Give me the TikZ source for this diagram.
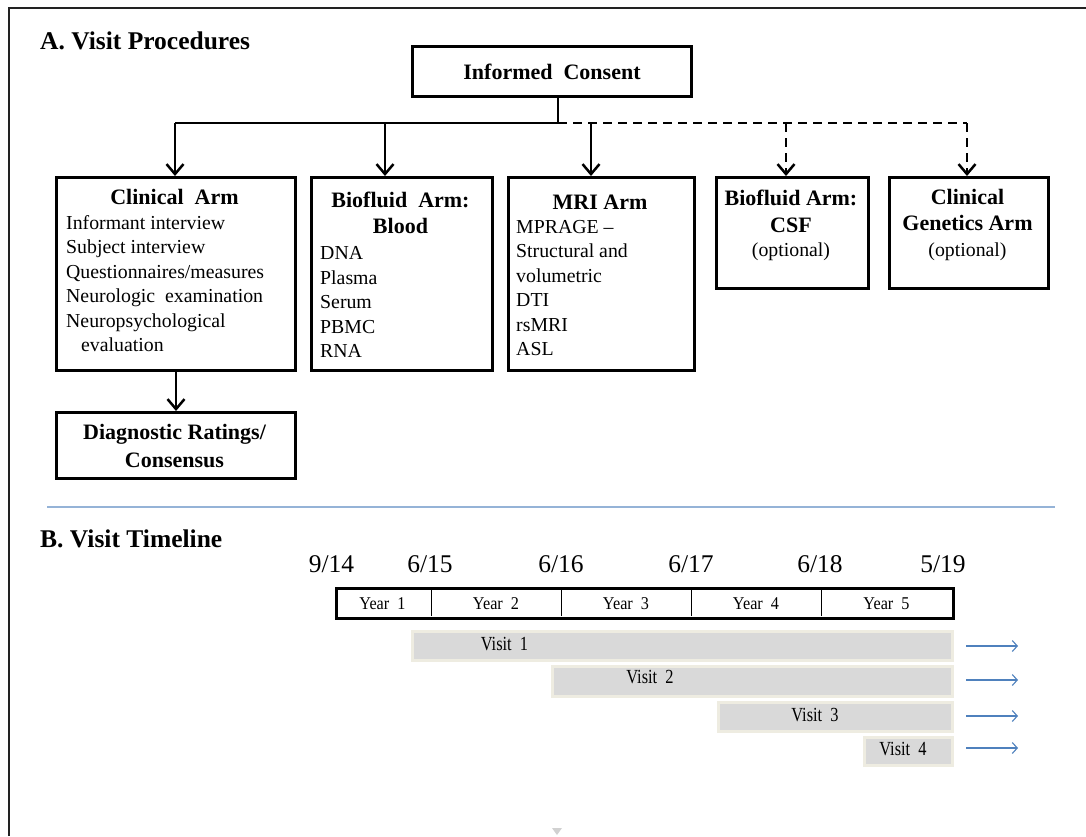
\documentclass[tikz,border=0pt]{standalone}
\usepackage{fontspec}
\setmainfont{Liberation Serif}
\newfontfamily\condfont[FakeStretch=0.82]{Liberation Serif}
\newfontfamily\yearfont[FakeStretch=0.9]{Liberation Serif}
\usetikzlibrary{arrows.meta}
\definecolor{visitfill}{HTML}{D9D9D9}
\definecolor{visitedge}{HTML}{EEECE1}
\definecolor{sepblue}{HTML}{95B3D7}
\definecolor{arrblue}{HTML}{4F81BD}
\definecolor{framec}{HTML}{222222}
\newcommand\bodyf{\fontsize{19.8}{24.5}\selectfont}
\newcommand\headf{\fontsize{22}{26.5}\selectfont\bfseries}
\newcommand\titlef{\fontsize{25.5}{30}\selectfont\bfseries}
\newcommand\datef{\fontsize{25.5}{30}\selectfont}
\newcommand\yearf{\fontsize{18}{20}\yearfont}
\newcommand\visitf{\fontsize{20}{22}\condfont}
\tikzset{
  box/.style={draw=black, line width=3pt, anchor=north west, inner sep=0pt},
  conn/.style={line width=2.5pt, draw=black},
  tip/.style={-{Straight Barb[length=10pt,width=17pt]}},
  dsh/.style={dash pattern=on 9pt off 6pt},
  lbl/.style={inner sep=0pt, anchor=base},
  lst/.style={inner sep=0pt, anchor=base west, align=left, font=\bodyf},
  visitbar/.style={fill=visitfill, draw=visitedge, line width=3pt, anchor=north west, inner sep=0pt},
  bluearr/.style={draw=arrblue, line width=1.1pt, -{Straight Barb[length=5pt,width=11pt]}},
}
\begin{document}
\begin{tikzpicture}[x=1pt,y=-1pt]
\useasboundingbox (0,0) rectangle (1086,836);
% frame
\draw[framec, line width=2pt] (9,836) -- (9,8) -- (1086,8);
% titles
\node[inner sep=0pt, anchor=base west, font=\titlef] (ta) at (40,49.5) {A. Visit Procedures};
\node[inner sep=0pt, anchor=base west, font=\titlef] (tb) at (40,547) {B. Visit Timeline};

% boxes
\node[box, minimum width=279pt, minimum height=50pt, font=\headf] (ic) at (411,45) {Informed\ \ Consent};
\node[box, minimum width=239pt, minimum height=193pt] (clin) at (55,176) {};
\node[box, minimum width=181pt, minimum height=193pt] (blood) at (310,176) {};
\node[box, minimum width=186pt, minimum height=193pt] (mri) at (507,176) {};
\node[box, minimum width=152pt, minimum height=111pt] (csf) at (715,176) {};
\node[box, minimum width=159pt, minimum height=111pt] (gen) at (888,176) {};
\node[box, minimum width=239pt, minimum height=66pt] (diag) at (55,411) {};

% bus and connectors
\coordinate (stem) at (558,123);
\coordinate (bclin) at (175,123);
\coordinate (bblood) at (385,123);
\coordinate (bmri) at (591,123);
\coordinate (bcsf) at (786,123);
\coordinate (bgen) at (967,123);
\draw[conn] (ic.south -| stem) -- (stem);
\draw[conn] (stem) -- (bclin);
\draw[conn, dsh] (stem) -- (bgen);
\draw[conn, tip] (bclin) -- (bclin |- clin.north);
\draw[conn, tip] (bblood) -- (bblood |- blood.north);
\draw[conn, tip] (bmri) -- (bmri |- mri.north);
\draw[conn, dsh, tip] (bcsf) -- (bcsf |- csf.north);
\draw[conn, dsh, tip] (bgen) -- (bgen |- gen.north);
\draw[conn, tip] (clin.south) -- (diag.north);

% clinical arm text
\node[lbl, font=\headf] (clinT) at (174.5,204) {Clinical\ \ Arm};
\node[lst] (clinL) at (66,351.5) {Informant interview\\Subject interview\\Questionnaires/measures\\Neurologic\ \ examination\\Neuropsychological\\\hspace*{15pt}evaluation};
% blood
\node[lbl, font=\headf] (bloodT1) at (400.5,207) {Biofluid\ \ Arm:};
\node[lbl, font=\headf] (bloodT2) at (400.5,233) {Blood};
\node[lst] (bloodL) at (320,357.5) {DNA\\Plasma\\Serum\\PBMC\\RNA};
% mri
\node[lbl, font=\headf] (mriT) at (600,209) {MRI Arm};
\node[lst] (mriL) at (516,355.5) {MPRAGE --\\Structural and\\volumetric\\DTI\\rsMRI\\ASL};
% csf
\node[lbl, font=\headf] (csfT1) at (791,205) {Biofluid Arm:};
\node[lbl, font=\headf] (csfT2) at (791,232) {CSF};
\node[lbl, font=\bodyf] (csfO) at (791,256) {(optional)};
% genetics
\node[lbl, font=\headf] (genT1) at (967.5,204) {Clinical};
\node[lbl, font=\headf] (genT2) at (967.5,230) {Genetics Arm};
\node[lbl, font=\bodyf] (genO) at (967.5,256) {(optional)};
% diagnostic
\node[lbl, font=\headf] (diagT1) at (174.5,439) {Diagnostic Ratings/};
\node[lbl, font=\headf] (diagT2) at (174.5,467) {Consensus};

% separator
\draw[sepblue, line width=1.3pt] (47,507) -- (1055,507);

% dates
\node[lbl, font=\datef] (d1) at (331.5,572) {9/14};
\node[lbl, font=\datef] (d2) at (430,572) {6/15};
\node[lbl, font=\datef] (d3) at (561,572) {6/16};
\node[lbl, font=\datef] (d4) at (691,572) {6/17};
\node[lbl, font=\datef] (d5) at (820,572) {6/18};
\node[lbl, font=\datef] (d6) at (943,572) {5/19};

% year bar
\node[draw=black, line width=2.8pt, anchor=north west, inner sep=0pt, minimum width=617pt, minimum height=30pt] (bar) at (335,587) {};
\foreach \xx in {431,561,691,821} \draw[black, line width=1pt] (\xx,587) -- (\xx,616);
\node[lbl, font=\yearf] (y1) at (382.5,609) {Year\ \ 1};
\node[lbl, font=\yearf] (y2) at (496,609) {Year\ \ 2};
\node[lbl, font=\yearf] (y3) at (626,609) {Year\ \ 3};
\node[lbl, font=\yearf] (y4) at (756,609) {Year\ \ 4};
\node[lbl, font=\yearf] (y5) at (886.5,609) {Year\ \ 5};

% visits
\node[visitbar, minimum width=540pt, minimum height=29pt] (v1) at (410.5,629.5) {};
\node[visitbar, minimum width=400pt, minimum height=30pt] (v2) at (550.5,664.5) {};
\node[visitbar, minimum width=234pt, minimum height=29pt] (v3) at (716.5,700.5) {};
\node[visitbar, minimum width=88pt, minimum height=28pt] (v4) at (862.5,735.5) {};
\node[lbl, font=\visitf] (v1t) at (504.5,650) {Visit\ \ 1};
\node[lbl, font=\visitf] (v2t) at (650,683) {Visit\ \ 2};
\node[lbl, font=\visitf] (v3t) at (815,721) {Visit\ \ 3};
\node[lbl, font=\visitf] (v4t) at (903,755) {Visit\ \ 4};

% blue arrows
\coordinate (a1s) at (966,646); \coordinate (a1e) at (1018,646);
\coordinate (a2s) at (966,680); \coordinate (a2e) at (1018,680);
\coordinate (a3s) at (966,716); \coordinate (a3e) at (1018,716);
\coordinate (a4s) at (966,748); \coordinate (a4e) at (1018,748);
\draw[bluearr] (a1s) -- (a1e);
\draw[bluearr] (a2s) -- (a2e);
\draw[bluearr] (a3s) -- (a3e);
\draw[bluearr] (a4s) -- (a4e);

% faint marker
\fill[black!18] (552,828) -- (562,828) -- (557,835) -- cycle;
\end{tikzpicture}
\end{document}
